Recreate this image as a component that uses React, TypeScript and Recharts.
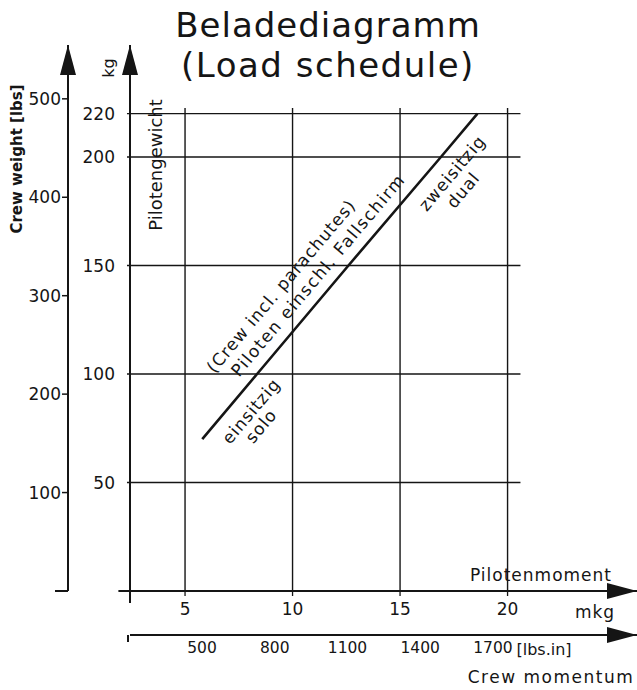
import React from 'react';
import { ComposedChart, Line, XAxis, YAxis, ReferenceLine } from 'recharts';

// ---- data ----
const CREW_WEIGHT_KG = [70, 100, 150, 200, 220];
const CREW_MOMENT_MKG = [5.8, 8.35, 12.6, 16.9, 18.6];
const KG_TICKS = [50, 100, 150, 200, 220];
const LBS_TICKS = [0, 100, 200, 300, 400, 500];
const MKG_TICKS = [5, 10, 15, 20];
const LBS_IN_TICKS = [500, 800, 1100, 1400, 1700];

const LB_PER_KG = 2.20462;
const LBS_IN_PER_MKG = 86.8;
const MKG_DOMAIN = [2.44, 26.02];
const KG_DOMAIN = [0, 251.6];
const LBS_DOMAIN = [KG_DOMAIN[0] * LB_PER_KG, KG_DOMAIN[1] * LB_PER_KG];
const LBS_IN_DOMAIN = [203, 2294];

const GRID_MKG_START = 2.3;
const GRID_MKG_END = 20.6;
const GRID_KG_TOP = 222.6;

const data = CREW_WEIGHT_KG.map((kg, i) => ({
  kg,
  m: CREW_MOMENT_MKG[i],
  lbsin: CREW_MOMENT_MKG[i] * LBS_IN_PER_MKG,
}));

const INK = '#151515';
const FONT = "'DejaVu Sans', sans-serif";
const ANGLE = -49.8;

const LbsTick = (props: any) => {
  const { x, y, payload } = props;
  if (payload.value === 0) {
    return <line x1={x - 7} y1={y} x2={x + 6} y2={y} stroke={INK} strokeWidth={2} />;
  }
  return (
    <g>
      <line x1={x} y1={y} x2={x + 6} y2={y} stroke={INK} strokeWidth={1.5} />
      <text x={x - 1} y={y} textAnchor="end" dominantBaseline="central" fill={INK} fontSize={17} fontFamily={FONT}>
        {payload.value}
      </text>
    </g>
  );
};

const LbsInTick = (props: any) => {
  const { x, y, payload } = props;
  if (payload.value === LBS_IN_DOMAIN[0]) {
    return <line x1={x - 2} y1={y - 7} x2={x - 2} y2={y} stroke={INK} strokeWidth={2} />;
  }
  return (
    <text x={x} y={y} dy="0.71em" textAnchor="middle" fill={INK} fontSize={15.5} fontFamily={FONT}>
      {payload.value}
    </text>
  );
};

const RotText = ({ x, y, children, size = 17, spacing = 1 }: any) => (
  <text
    x={x}
    y={y}
    transform={`rotate(${ANGLE} ${x} ${y})`}
    textAnchor="middle"
    dominantBaseline="central"
    fill={INK}
    fontSize={size}
    letterSpacing={spacing}
    fontFamily={FONT}
  >
    {children}
  </text>
);

export default function App() {
  return (
    <div style={{ position: 'absolute', left: 0, top: 0, width: 637, height: 690, background: '#fff' }}>
      <svg width={0} height={0} style={{ position: 'absolute' }}>
        <defs>
          <marker id="arrowHead" markerUnits="userSpaceOnUse" markerWidth={30} markerHeight={16} viewBox="0 0 30 16" refX={30} refY={8} orient="auto-start-reverse">
            <path d="M0,0 L30,8 L0,16 z" fill={INK} />
          </marker>
        </defs>
      </svg>
      <ComposedChart width={637} height={690} data={data} margin={{ top: 45, right: 0, bottom: 15, left: 0 }}>
        <XAxis
          xAxisId="mkg"
          type="number"
          dataKey="m"
          domain={MKG_DOMAIN}
          allowDataOverflow
          ticks={MKG_TICKS}
          interval={0}
          height={44}
          axisLine={{ stroke: INK, strokeWidth: 2, markerEnd: 'url(#arrowHead)' }}
          tickLine={{ stroke: INK, strokeWidth: 1.3 }}
          tickSize={5}
          tickMargin={7}
          tick={{ fill: INK, fontSize: 17, fontFamily: FONT }}
        />
        <XAxis
          xAxisId="mlbsin"
          type="number"
          dataKey="lbsin"
          domain={LBS_IN_DOMAIN}
          allowDataOverflow
          ticks={[LBS_IN_DOMAIN[0], ...LBS_IN_TICKS]}
          interval={0}
          height={40}
          axisLine={{ stroke: INK, strokeWidth: 2, markerEnd: 'url(#arrowHead)' }}
          tickLine={false}
          tickSize={0}
          tickMargin={7}
          tick={<LbsInTick />}
        />
        <YAxis
          yAxisId="kg"
          type="number"
          domain={KG_DOMAIN}
          allowDataOverflow
          ticks={KG_TICKS}
          interval={0}
          width={62}
          axisLine={{ stroke: INK, strokeWidth: 2, markerStart: 'url(#arrowHead)' }}
          tickLine={false}
          tickSize={0}
          tickMargin={15}
          tick={{ fill: INK, fontSize: 17, fontFamily: FONT }}
        />
        <YAxis
          yAxisId="lbs"
          type="number"
          domain={LBS_DOMAIN}
          allowDataOverflow
          ticks={LBS_TICKS}
          interval={0}
          width={68}
          axisLine={{ stroke: INK, strokeWidth: 2, markerStart: 'url(#arrowHead)' }}
          tickLine={false}
          tickSize={6}
          tickMargin={0}
          tick={<LbsTick />}
        />
        {KG_TICKS.map((v) => (
          <ReferenceLine
            key={`h${v}`}
            xAxisId="mkg"
            yAxisId="kg"
            ifOverflow="visible"
            segment={[{ x: GRID_MKG_START, y: v }, { x: GRID_MKG_END, y: v }]}
            stroke={INK}
            strokeWidth={1.4}
          />
        ))}
        {MKG_TICKS.map((v) => (
          <ReferenceLine
            key={`v${v}`}
            xAxisId="mkg"
            yAxisId="kg"
            ifOverflow="visible"
            segment={[{ x: v, y: 0 }, { x: v, y: GRID_KG_TOP }]}
            stroke={INK}
            strokeWidth={1.4}
          />
        ))}
        <ReferenceLine
          xAxisId="mkg"
          yAxisId="kg"
          ifOverflow="visible"
          segment={[{ x: MKG_DOMAIN[0], y: 0 }, { x: MKG_DOMAIN[0], y: -5.5 }]}
          stroke={INK}
          strokeWidth={2}
        />
        <ReferenceLine
          xAxisId="mkg"
          yAxisId="kg"
          ifOverflow="visible"
          segment={[{ x: 1.9, y: 0 }, { x: MKG_DOMAIN[0], y: 0 }]}
          stroke={INK}
          strokeWidth={2}
        />
        <Line
          xAxisId="mkg"
          yAxisId="kg"
          dataKey="kg"
          type="linear"
          stroke={INK}
          strokeWidth={2.6}
          dot={false}
          activeDot={false}
          isAnimationActive={false}
        />
      </ComposedChart>
      <svg width={637} height={690} style={{ position: 'absolute', left: 0, top: 0, pointerEvents: 'none' }}>
        <text x={328} y={25} textAnchor="middle" dominantBaseline="central" fill={INK} fontSize={34} letterSpacing={1} fontFamily={FONT}>
          Beladediagramm
        </text>
        <text x={328} y={65} textAnchor="middle" dominantBaseline="central" fill={INK} fontSize={34} letterSpacing={1.5} fontFamily={FONT}>
          (Load schedule)
        </text>
        <text x={17} y={159} transform="rotate(-90 17 159)" textAnchor="middle" dominantBaseline="central" fill={INK} fontSize={15} fontWeight="bold" fontFamily={FONT}>
          Crew weight [lbs]
        </text>
        <text x={108} y={68} transform="rotate(-90 108 68)" textAnchor="middle" dominantBaseline="central" fill={INK} fontSize={16} fontFamily={FONT}>
          kg
        </text>
        <text x={155} y={165} transform="rotate(-90 155 165)" textAnchor="middle" dominantBaseline="central" fill={INK} fontSize={18} fontFamily={FONT}>
          Pilotengewicht
        </text>
        <text x={541} y={575} textAnchor="middle" dominantBaseline="central" fill={INK} fontSize={17} letterSpacing={1} fontFamily={FONT}>
          Pilotenmoment
        </text>
        <text x={595} y={612} textAnchor="middle" dominantBaseline="central" fill={INK} fontSize={17} letterSpacing={1} fontFamily={FONT}>
          mkg
        </text>
        <text x={544} y={649} textAnchor="middle" dominantBaseline="central" fill={INK} fontSize={16} fontFamily={FONT}>
          [lbs.in]
        </text>
        <text x={551} y={677} textAnchor="middle" dominantBaseline="central" fill={INK} fontSize={17} letterSpacing={1.5} fontFamily={FONT}>
          Crew momentum
        </text>
        <RotText x={281} y={286}>(Crew incl. parachutes)</RotText>
        <RotText x={318} y={275} spacing={1.5}>Piloten einschl. Fallschirm</RotText>
        <RotText x={251} y={411}>einsitzig</RotText>
        <RotText x={261} y={426}>solo</RotText>
        <RotText x={452} y={173}>zweisitzig</RotText>
        <RotText x={463} y={190}>dual</RotText>
      </svg>
    </div>
  );
}
